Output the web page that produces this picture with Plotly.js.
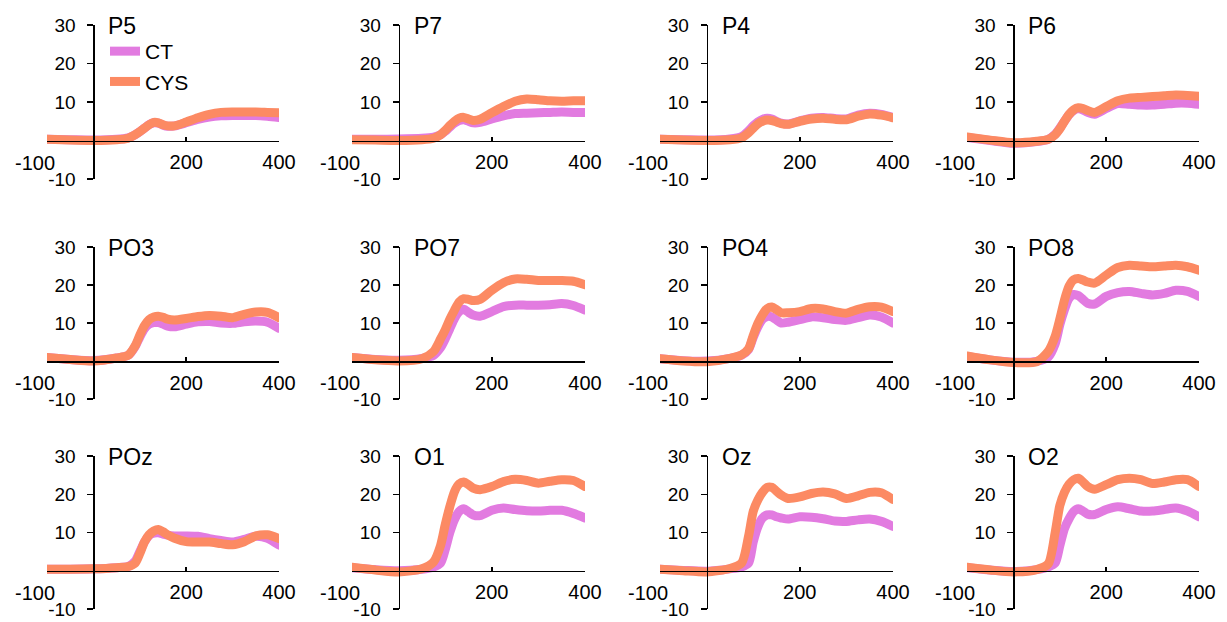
<!DOCTYPE html>
<html>
<head>
<meta charset="utf-8">
<script src="https://cdn.plot.ly/plotly-3.0.1.min.js"></script>
<style>
  html, body { margin: 0; padding: 0; background: #fff; }
  #chart { width: 1227px; height: 622px; }
  .scatterlayer .js-line { stroke-linecap: round; }
</style>
</head>
<body>
<div id="chart"></div>
<script>
// Time points (ms)
const t = [-100, -50, 0, 50, 75, 90, 100, 110, 120, 130, 140, 150, 160, 175, 200, 225, 250, 275, 300, 325, 350, 375, 400];

const panelNames = ['P5', 'P7', 'P4', 'P6', 'PO3', 'PO7', 'PO4', 'PO8', 'POz', 'O1', 'Oz', 'O2'];
const seriesNames = ['CT', 'CYS'];

// CT series
const ctP5  = [0.3, 0.2, 0.1, 0.3, 0.7, 1.5, 2.3, 3.2, 4.1, 4.6, 4.5, 4.0, 3.7, 3.8, 4.6, 5.5, 6.1, 6.4, 6.5, 6.5, 6.5, 6.3, 6.0];
const ctP7  = [0.3, 0.3, 0.4, 0.6, 0.9, 1.5, 2.4, 3.5, 4.5, 5.2, 5.4, 5.0, 4.6, 4.7, 5.6, 6.4, 7.0, 7.1, 7.2, 7.3, 7.4, 7.3, 7.3];
const ctP4  = [0.3, 0.2, 0.1, 0.4, 1.0, 2.5, 3.8, 4.8, 5.5, 5.8, 5.6, 5.0, 4.5, 4.3, 5.1, 5.8, 6.0, 5.7, 5.6, 6.6, 7.1, 6.8, 6.0];
const ctP6  = [0.8, 0.0, -0.7, -0.3, 0.3, 1.6, 3.2, 5.0, 6.7, 7.8, 8.3, 7.9, 7.3, 6.8, 8.3, 9.6, 9.4, 9.2, 9.2, 9.4, 9.7, 9.7, 9.4];
const ctPO3 = [0.9, 0.4, 0.1, 0.8, 1.5, 3.8, 6.3, 8.5, 9.7, 10.1, 10.1, 9.7, 9.2, 9.0, 9.7, 10.3, 10.4, 10.0, 9.9, 10.3, 10.5, 10.2, 8.6];
const ctPO7 = [0.9, 0.4, 0.2, 0.7, 1.5, 3.5, 5.8, 8.5, 11.2, 13.0, 13.6, 12.8, 12.1, 11.8, 13.0, 14.3, 14.7, 14.7, 14.7, 14.8, 15.1, 14.6, 13.4];
const ctPO4 = [0.6, 0.1, 0.0, 0.7, 1.5, 3.0, 6.2, 9.0, 11.0, 11.7, 11.6, 10.8, 10.0, 10.2, 10.9, 11.6, 11.4, 10.9, 10.7, 11.4, 12.1, 11.6, 10.0];
const ctPO8 = [1.2, 0.3, -0.3, -0.1, 1.0, 4.5, 9.5, 13.5, 16.5, 17.5, 17.2, 16.2, 15.2, 15.0, 17.0, 18.0, 18.3, 17.8, 17.4, 17.8, 18.6, 18.3, 17.0];
const ctPOz = [0.4, 0.4, 0.5, 0.8, 1.1, 2.5, 5.0, 7.5, 9.2, 9.8, 9.9, 9.6, 9.3, 9.1, 9.1, 9.0, 8.4, 7.9, 7.5, 8.2, 9.0, 8.5, 6.7];
const ctO1  = [0.8, 0.3, 0.0, 0.4, 1.0, 2.0, 5.5, 10.0, 13.4, 15.5, 16.2, 15.4, 14.6, 14.4, 15.8, 16.4, 16.0, 15.7, 15.6, 15.8, 15.8, 15.0, 13.8];
const ctOz  = [0.4, 0.1, -0.1, 0.5, 1.0, 2.0, 7.5, 11.5, 13.8, 14.6, 14.6, 14.1, 13.8, 13.5, 14.1, 14.0, 13.6, 13.0, 12.9, 13.3, 13.5, 12.9, 11.6];
const ctO2  = [0.8, 0.2, -0.2, 0.3, 1.0, 2.0, 6.5, 11.0, 13.6, 15.5, 16.2, 15.6, 14.8, 14.7, 16.0, 16.7, 16.2, 15.6, 15.6, 16.0, 16.4, 15.6, 14.1];

// CYS series
const cysP5  = [0.3, 0.1, 0.0, 0.2, 0.6, 1.5, 2.3, 3.2, 4.1, 4.7, 4.6, 4.1, 3.8, 3.8, 4.8, 5.9, 6.8, 7.3, 7.4, 7.4, 7.4, 7.3, 7.2];
const cysP7  = [0.2, 0.1, 0.0, 0.2, 0.6, 1.5, 2.6, 3.9, 5.0, 5.8, 6.0, 5.6, 5.2, 5.5, 7.2, 8.8, 10.2, 10.8, 10.6, 10.3, 10.2, 10.3, 10.3];
const cysP4  = [0.3, 0.1, 0.0, 0.2, 0.7, 2.0, 3.2, 4.3, 5.0, 5.3, 5.2, 4.8, 4.4, 4.2, 5.0, 5.6, 5.8, 5.5, 5.4, 6.3, 6.9, 6.6, 5.9];
const cysP6  = [0.9, 0.1, -0.6, -0.2, 0.3, 1.5, 3.0, 5.0, 6.8, 8.0, 8.5, 8.3, 7.8, 7.3, 8.8, 10.3, 11.0, 11.2, 11.4, 11.6, 11.8, 11.7, 11.5];
const cysPO3 = [0.9, 0.4, 0.0, 0.8, 1.5, 4.0, 6.8, 9.3, 10.9, 11.6, 11.8, 11.5, 11.0, 10.8, 11.2, 11.7, 12.0, 11.8, 11.4, 12.3, 12.9, 12.8, 11.4];
const cysPO7 = [0.9, 0.3, 0.0, 0.6, 2.5, 5.8, 8.2, 11.0, 13.4, 15.5, 16.4, 16.2, 15.9, 16.2, 18.6, 20.6, 21.6, 21.5, 21.2, 21.2, 21.2, 21.0, 20.1];
const cysPO4 = [0.6, 0.0, -0.2, 0.7, 1.6, 3.2, 6.7, 9.9, 12.2, 13.8, 14.2, 13.5, 12.7, 12.7, 13.0, 13.8, 13.7, 13.0, 12.6, 13.6, 14.3, 14.2, 13.0];
const cysPO8 = [1.3, 0.3, -0.4, -0.2, 2.5, 6.5, 11.0, 16.0, 19.7, 21.4, 21.7, 21.3, 20.8, 20.5, 22.6, 24.6, 25.2, 25.0, 24.8, 25.0, 25.2, 24.8, 23.9];
const cysPOz = [0.4, 0.4, 0.5, 0.8, 1.1, 2.0, 4.5, 7.5, 9.4, 10.4, 10.8, 10.2, 9.4, 8.5, 7.6, 7.5, 7.5, 7.1, 6.8, 7.6, 9.1, 9.4, 8.4];
const cysO1  = [0.9, 0.2, -0.3, 0.5, 2.3, 6.6, 12.0, 16.8, 20.7, 22.7, 23.2, 22.5, 21.6, 21.2, 22.0, 23.3, 23.9, 23.6, 22.9, 23.4, 23.8, 23.6, 22.0];
const cysOz  = [0.4, 0.0, -0.3, 0.6, 2.0, 9.0, 15.5, 18.5, 20.5, 21.8, 21.8, 20.8, 19.8, 18.9, 19.3, 20.2, 20.6, 20.1, 18.9, 19.6, 20.5, 20.4, 18.6];
const cysO2  = [0.9, 0.2, -0.3, 0.3, 1.8, 10.0, 17.0, 20.5, 22.6, 23.8, 24.2, 23.2, 22.0, 21.3, 22.5, 23.8, 24.2, 23.8, 22.8, 23.2, 23.8, 23.8, 22.0];

const ctSeries  = [ctP5, ctP7, ctP4, ctP6, ctPO3, ctPO7, ctPO4, ctPO8, ctPOz, ctO1, ctOz, ctO2];
const cysSeries = [cysP5, cysP7, cysP4, cysP6, cysPO3, cysPO7, cysPO4, cysPO8, cysPOz, cysO1, cysOz, cysO2];

// x tick labels: first one (-100) is drawn as a data-anchored label, the rest as axis ticks
const xTicks = [-100, 200, 400];
const yTicks = [-10, 10, 20, 30];

// ---- layout geometry (pixels) ----
const W = 1227, H = 622;
const cols = [[47, 279], [352, 585], [660, 893], [967, 1199]];
const rows = [[25, 179], [247, 399], [456, 609]];
const colors = ['#E27BE0', '#FC8A63'];
const fontFam = 'Liberation Sans, Arial, sans-serif';

const traces = [];
const layout = {
  width: W, height: H, autosize: false,
  margin: {l: 0, r: 0, t: 0, b: 0, pad: 0},
  paper_bgcolor: '#fff', plot_bgcolor: 'rgba(0,0,0,0)',
  showlegend: true,
  legend: {
    x: 105 / W, y: 1 - 31 / H, xanchor: 'left', yanchor: 'top',
    font: {family: fontFam, size: 21, color: '#000'},
    bgcolor: 'rgba(0,0,0,0)', borderwidth: 0, tracegroupgap: 0,
    itemwidth: 30
  },
  annotations: []
};

panelNames.forEach((name, i) => {
  const r = Math.floor(i / 4), c = i % 4;
  const [x0, x1] = cols[c];
  const [yt, yb] = rows[r];
  const sfx = i === 0 ? '' : String(i + 1);
  const xa = 'xaxis' + sfx, ya = 'yaxis' + sfx;
  const xr = 'x' + sfx, yr = 'y' + sfx;
  const xDom = [x0 / W, x1 / W];
  const yDom = [1 - yb / H, 1 - yt / H];
  const xZeroPaper = (x0 + (x1 - x0) * (0 - (-100)) / 500) / W;
  const yZeroPaper = 1 - (yt + (yb - yt) * (30 - 0) / 40) / H;

  layout[xa] = {
    domain: xDom, range: [-100, 400], anchor: 'free', position: yZeroPaper,
    showgrid: false, zeroline: false, showline: true, linecolor: '#000', linewidth: 1.5,
    tickmode: 'array', tickvals: xTicks.slice(1), ticktext: xTicks.slice(1).map(String),
    ticks: 'inside', ticklen: 4, tickwidth: 1.5, tickcolor: '#000',
    ticklabelstandoff: 3,
    tickfont: {family: fontFam, size: 20, color: '#000'},
    fixedrange: true
  };
  layout[ya] = {
    domain: yDom, range: [-10, 30], anchor: 'free', position: xZeroPaper,
    showgrid: false, zeroline: false, showline: true, linecolor: '#000', linewidth: 1.5,
    tickmode: 'array', tickvals: yTicks, ticktext: yTicks.map(String),
    ticks: 'outside', ticklen: 6, tickwidth: 1.5, tickcolor: '#000',
    ticklabelstandoff: 8,
    tickfont: {family: fontFam, size: 19, color: '#000'},
    fixedrange: true
  };

  [ctSeries[i], cysSeries[i]].forEach((vals, k) => {
    traces.push({
      type: 'scatter', mode: 'lines', x: t, y: vals,
      xaxis: xr, yaxis: yr, name: seriesNames[k],
      showlegend: i === 0, legendgroup: seriesNames[k],
      line: {color: colors[k], width: 9, shape: 'spline', smoothing: 0.7},
      hoverinfo: 'skip'
    });
  });

  // first x tick label, shifted left like the original
  layout.annotations.push({
    xref: xr, yref: yr, x: xTicks[0], y: 0,
    xanchor: 'center', yanchor: 'top', xshift: -12, yshift: -9,
    text: String(xTicks[0]), showarrow: false,
    font: {family: fontFam, size: 20, color: '#000'}
  });

  layout.annotations.push({
    xref: 'paper', yref: 'paper',
    x: xZeroPaper + 13 / W, y: 1 - (yt + 1) / H,
    xanchor: 'left', yanchor: 'middle',
    text: name, showarrow: false,
    font: {family: fontFam, size: 23, color: '#000'}
  });
});

Plotly.newPlot('chart', traces, layout, {staticPlot: true, displayModeBar: false});
</script>
</body>
</html>
